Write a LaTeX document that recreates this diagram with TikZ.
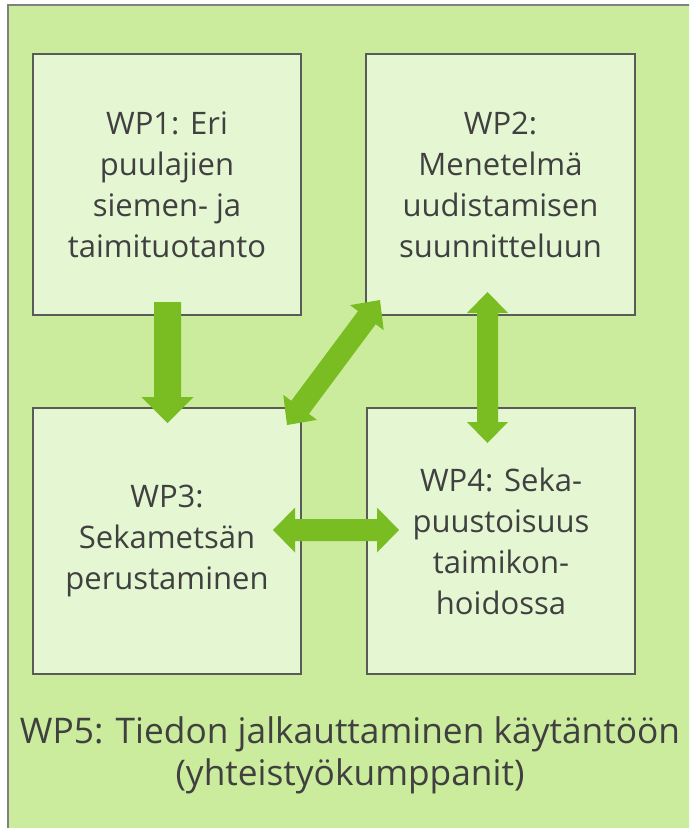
\documentclass[tikz,border=0pt]{standalone}
\usepackage{fontspec}
\setmainfont{Open Sans}
\usetikzlibrary{calc}
\definecolor{outerfill}{RGB}{203,236,156}
\definecolor{boxfill}{RGB}{228,246,210}
\definecolor{boxline}{RGB}{89,91,89}
\definecolor{arrowc}{RGB}{122,189,34}
\definecolor{txt}{RGB}{64,64,64}
\newcommand\singlearrow[5]{% tail, tip, shaft hw, head hw, head len
  \coordinate (#2-b) at ($(#2)!#5!(#1)$);
  \fill[arrowc] ($(#1)!#3!90:(#2)$) -- ($(#2-b)!#3!90:(#2)$) -- ($(#2-b)!#4!90:(#2)$) -- (#2) -- ($(#2-b)!#4!-90:(#2)$) -- ($(#2-b)!#3!-90:(#2)$) -- ($(#1)!#3!-90:(#2)$) -- cycle;
}
\newcommand\doublearrow[5]{% A, B, shaft hw, head hw, head len
  \coordinate (#1-b) at ($(#1)!#5!(#2)$);
  \coordinate (#2-b) at ($(#2)!#5!(#1)$);
  \fill[arrowc] (#1) -- ($(#1-b)!#4!90:(#2)$) -- ($(#1-b)!#3!90:(#2)$) -- ($(#2-b)!#3!-90:(#1)$) -- ($(#2-b)!#4!-90:(#1)$) -- (#2) -- ($(#2-b)!#4!90:(#1)$) -- ($(#2-b)!#3!90:(#1)$) -- ($(#1-b)!#3!-90:(#2)$) -- ($(#1-b)!#4!-90:(#2)$) -- cycle;
}
\begin{document}
\begin{tikzpicture}[x=1pt,y=-1pt,
  wpbox/.style={draw=boxline, line width=2pt, fill=boxfill, align=center, inner sep=0pt, text=txt, font=\fontsize{31}{41}\selectfont},
  wptext/.style={align=center, inner sep=0pt, text=txt, font=\fontsize{35.3}{42}\selectfont}]
\useasboundingbox (0,0) rectangle (689,828);
\clip (0,0) rectangle (689,828);
\draw[fill=outerfill, draw=gray, line width=1.5pt] (8,5) rectangle (720,860);
\node[wpbox, minimum width=268pt, minimum height=261pt] (wp1) at (167,184.5) {WP1: Eri\\puulajien\\siemen- ja\\taimituotanto};
\node[wpbox, minimum width=269pt, minimum height=261pt] (wp2) at (500.5,184.5) {WP2:\\Menetelmä\\uudistamisen\\suunnitteluun};
\node[wpbox, minimum width=268pt, minimum height=266pt] (wp3) at (167,541) {WP3:\\Sekametsän\\perustaminen};
\node[wpbox, minimum width=268pt, minimum height=266pt] (wp4) at (501,541) {WP4: Seka-\\puustoisuus\\taimikon-\\hoidossa};
\node[wptext, anchor=base] (wp5) at (350,785) {WP5: Tiedon jalkauttaminen käytäntöön\\(yhteistyökumppanit)};
\coordinate (a1) at (167.5,302);
\coordinate (a2) at (167.5,423);
\coordinate (b1) at (487.5,292);
\coordinate (b2) at (487.5,443);
\coordinate (c1) at (273,530);
\coordinate (c2) at (399,530);
\coordinate (d1) at (287,425);
\coordinate (d2) at (380,300);
\singlearrow{a1}{a2}{13.5pt}{26pt}{26pt}
\doublearrow{b1}{b2}{10.5pt}{20.5pt}{21pt}
\doublearrow{c1}{c2}{11pt}{22.5pt}{22pt}
\doublearrow{d1}{d2}{11pt}{21pt}{22pt}
\end{tikzpicture}
\end{document}
